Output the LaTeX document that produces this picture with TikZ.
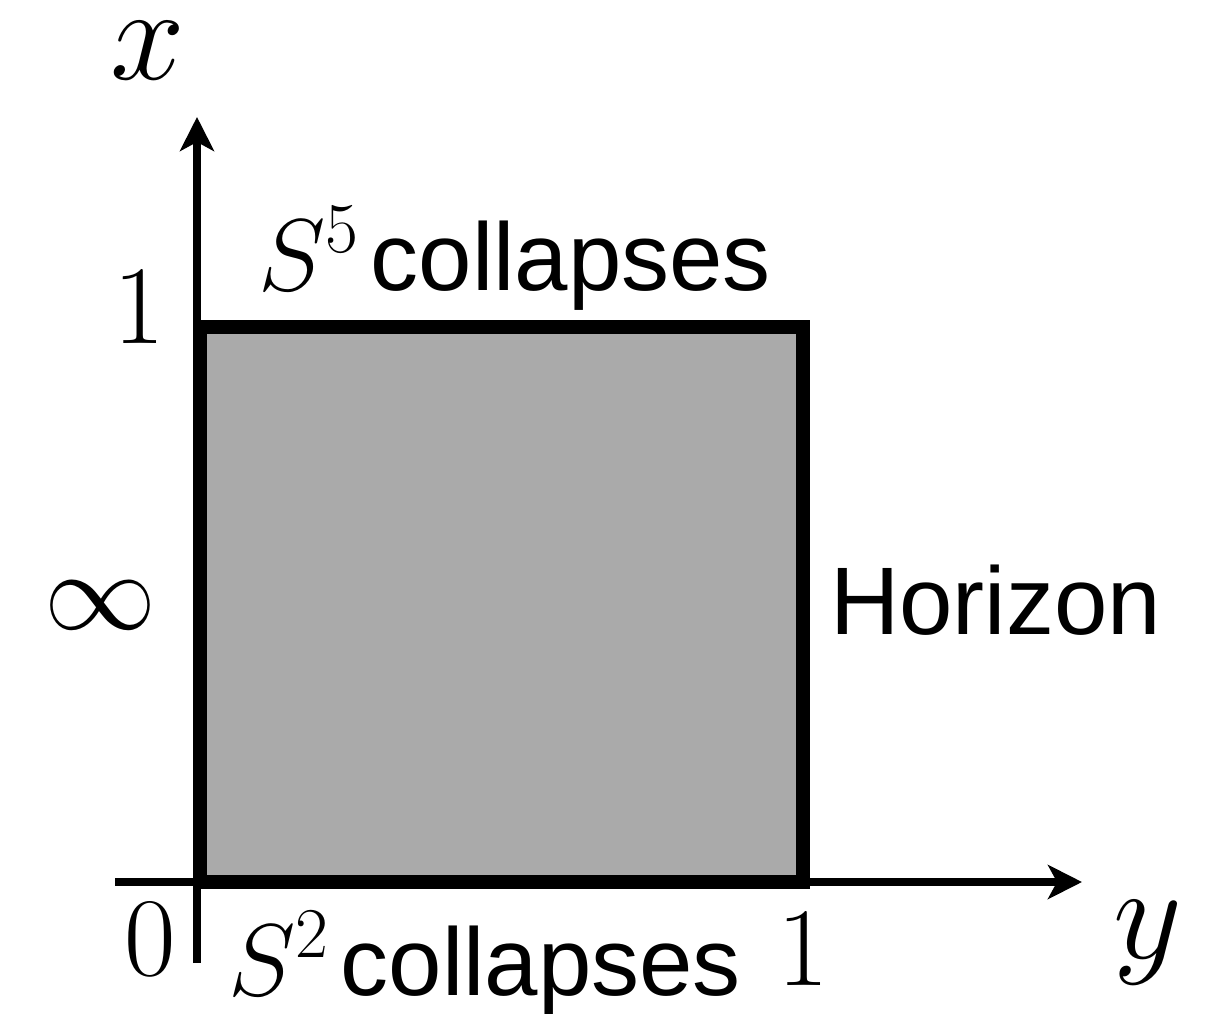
\RequirePackage{fix-cm}
\documentclass[tikz,border=0pt]{standalone}
\usepackage{fontspec}
\setsansfont{Liberation Sans}
\usetikzlibrary{arrows.meta}
\newcommand{\bigmath}[1]{{\fontsize{102}{110}\selectfont$#1$}}
\tikzset{
  axisline/.style={line width=7.5pt,-{Stealth[length=34pt,width=34pt,inset=9pt]}},
  boxline/.style={line width=14pt,fill={rgb,255:red,170;green,170;blue,170},line join=miter},
  numlbl/.style={inner sep=0pt,anchor=base,font=\fontsize{112}{130}\selectfont},
  varlbl/.style={inner sep=0pt,anchor=base,font=\fontsize{134}{150}\selectfont},
  sanslbl/.style={inner sep=0pt,anchor=base west,font=\fontsize{96}{110}\selectfont\sffamily},
}
\begin{document}
\begin{tikzpicture}[x=1pt,y=-1pt]
\useasboundingbox (0,0) rectangle (1215,1014);
\coordinate (bl) at (200,882);
\coordinate (tr) at (803,327);
\draw[boxline] (bl) rectangle (tr);
\coordinate (vs) at (197,963);
\coordinate (ve) at (197,117);
\coordinate (hs) at (115,882);
\coordinate (he) at (1082,882);
\draw[axisline] (vs) -- (ve);
\draw[axisline] (hs) -- (he);
\draw[line width=14pt] (200,882) -- (803,882);
\node[varlbl] (xl) at (148,80) {$x$};
\node[varlbl] (yl) at (1148,958) {$y$};
\node[numlbl] (one1) at (139,343) {$1$};
\node[numlbl,anchor=center] (inf) at (100,605) {$\infty$};
\node[numlbl] (zero) at (150,975) {$0$};
\node[numlbl] (one2) at (803,985) {$1$};
\node[sanslbl] (top) at (258,290) {\bigmath{S^5}\hspace{12pt}collapses};
\node[sanslbl] (hor) at (830,634) {Horizon};
\node[sanslbl] (bot) at (228,995) {\bigmath{S^2}\hspace{12pt}collapses};
\end{tikzpicture}
\end{document}
